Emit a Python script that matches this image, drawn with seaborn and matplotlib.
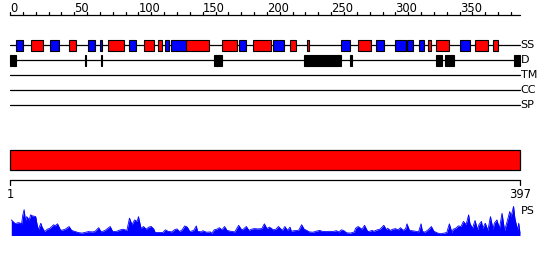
import matplotlib
matplotlib.use("Agg")
import matplotlib.pyplot as plt
from matplotlib.patches import Rectangle
import seaborn as sns

# ---------------- data ----------------
seq_len = 397
ruler_labels = [0, 50, 100, 150, 200, 250, 300, 350]
track_names = ["SS", "D", "TM", "CC", "SP"]

# secondary structure elements: start, end, type (H = helix red, E = strand blue)
ss_start = [5, 16, 31, 46, 61, 70, 76, 93, 104, 115, 121, 125, 137, 165, 178, 189,
            205, 218, 231, 258, 271, 285, 300, 309, 318, 325, 332, 350, 362, 376]
ss_end = [10, 26, 38, 51, 66, 72, 89, 98, 112, 118, 124, 137, 155, 177, 184, 203,
          213, 223, 233, 265, 281, 291, 308, 314, 322, 328, 342, 358, 372, 380]
ss_type = ["E", "H", "E", "H", "E", "E", "H", "E", "H", "H", "E", "E", "H", "H", "E", "H",
           "E", "H", "H", "E", "H", "E", "E", "E", "E", "H", "H", "E", "H", "H"]

# disordered regions
d_start = [0, 58, 71, 159, 229, 265, 332, 339, 392]
d_end = [5, 59, 72, 165, 258, 266, 336, 346, 397]

# protein-binding (PS) profile
ps_pos = [1, 4, 7, 9, 10, 11, 12, 13, 15, 16, 17, 20, 21, 22, 24, 25, 27, 29, 31, 34,
          35, 37, 39, 40, 43, 46, 48, 51, 53, 56, 59, 61, 64, 66, 69, 71, 74, 78, 80, 83,
          86, 88, 91, 93, 95, 97, 99, 100, 102, 104, 106, 108, 110, 112, 113, 115, 119,
          121, 123, 126, 128, 130, 132, 134, 136, 138, 140, 143, 145, 146, 149, 150, 153,
          156, 157, 159, 161, 163, 165, 167, 169, 172, 175, 178, 180, 181, 184, 186, 188,
          190, 193, 196, 198, 200, 202, 205, 207, 209, 211, 212, 214, 216, 218, 219, 221,
          224, 225, 227, 229, 231, 233, 236, 238, 241, 243, 246, 249, 251, 254, 256, 258,
          260, 262, 265, 268, 269, 271, 274, 276, 278, 279, 282, 283, 286, 288, 290, 291,
          293, 294, 296, 298, 300, 302, 304, 306, 308, 309, 311, 313, 316, 318, 320, 321,
          323, 326, 328, 330, 333, 335, 338, 340, 342, 344, 345, 347, 349, 351, 353, 355,
          357, 358, 360, 362, 364, 365, 367, 368, 370, 372, 374, 376, 377, 379, 381, 383,
          385, 387, 389, 390, 392, 393, 395, 396, 397]
ps_val = [.52, .40, .43, .39, .69, .86, .50, .63, .52, .69, .66, .63, .39, .19, .41, .28, .13, .21, .24, .36,
          .32, .39, .21, .17, .21, .30, .17, .13, .10, .08, .11, .13, .12, .13, .26, .12, .17, .30, .13, .14,
          .19, .21, .17, .58, .36, .52, .47, .63, .24, .30, .21, .28, .30, .21, .10, .10, .10,
          .19, .14, .12, .19, .22, .13, .19, .32, .28, .13, .17, .32, .14, .12, .16, .11,
          .12, .07, .19, .21, .26, .19, .30, .17, .14, .12, .34, .21, .19, .30, .17, .21,
          .23, .22, .23, .39, .23, .28, .19, .21, .30, .21, .17, .30, .17, .28, .14, .16,
          .17, .19, .36, .21, .17, .12, .11, .14, .17, .14, .13, .14, .13, .16, .12, .19,
          .16, .09, .08, .12, .24, .30, .21, .34, .17, .13, .17, .14, .19, .21, .30, .34,
          .19, .24, .17, .21, .23, .19, .26, .17, .23, .39, .17, .16, .14, .12, .39, .14,
          .11, .21, .30, .14, .08, .06, .08, .10, .39, .10, .21, .24, .32, .30, .47, .36,
          .69, .41, .24, .50, .19, .36, .47, .24, .41, .17, .63, .21, .41, .52, .24, .74,
          .17, .47, .80, .63, .97, .58, .19, .41, .08]

# ---------------- figure ----------------
sns.set_style("white")
plt.rcParams["font.family"] = ["DejaVu Sans"]
plt.rcParams["text.color"] = "black"

W, H = 550, 260
fig = plt.figure(figsize=(W / 100, H / 100), dpi=100)
px_per_res = 510 / seq_len
x0 = -10 / px_per_res
x1 = x0 + W / px_per_res

ax = fig.add_axes([0, 0, 1, 1])
ax.set_xlim(x0, x1)
ax.set_ylim(H, 0)
ax.axis("off")

fs = 8.3
lw = 0.9

# top ruler
ruler_y = 15
ax.plot([0, seq_len], [ruler_y, ruler_y], color="black", lw=lw)
for t in range(0, seq_len, 10):
    ax.plot([t, t], [ruler_y - 3, ruler_y], color="black", lw=lw)
for t in ruler_labels:
    ax.text(t, ruler_y - 3.5, str(t), ha="left", va="baseline", fontsize=fs, color="black")

# tracks
track_y = [45, 60, 75, 90, 105]
for name, y in zip(track_names, track_y):
    ax.plot([0, seq_len], [y, y], color="black", lw=lw, zorder=1)
    ax.text(seq_len + 0.5, y, name, ha="left", va="center", fontsize=fs - 0.3, color="black")

colors = {"H": "#ff0000", "E": "#0000ff"}
for s, e, t in zip(ss_start, ss_end, ss_type):
    ax.add_patch(Rectangle((s, track_y[0] - 5.5), e - s, 11, facecolor=colors[t],
                           edgecolor="black", lw=0.8, zorder=2))
for s, e in zip(d_start, d_end):
    ax.add_patch(Rectangle((s, track_y[1] - 5.5), max(e - s, 0.6), 11, facecolor="black",
                           edgecolor="black", lw=0.8, zorder=2))

# full-length red bar
ax.add_patch(Rectangle((0, 150), seq_len, 20, facecolor="#ff0000", edgecolor="black", lw=0.9))

# bottom scale
ax.plot([0, seq_len], [180, 180], color="black", lw=lw)
for t, lab in zip([0, seq_len], ["1", str(seq_len)]):
    ax.plot([t, t], [180, 185], color="black", lw=lw)
    ax.text(t, 188, lab, ha="center", va="top", fontsize=fs, color="black")

ax.text(seq_len + 0.5, 211, "PS", ha="left", va="center", fontsize=fs - 0.3, color="black")

# PS profile
base = 235.5
ax_ps = fig.add_axes([0, (H - base) / H, 1, 30 / H])
ax_ps.set_xlim(x0, x1)
ax_ps.set_ylim(0, 1)
ax_ps.axis("off")
ax_ps.patch.set_alpha(0)
ax_ps.fill_between(ps_pos, 0, ps_val, color="#0000ff", lw=0)
sns.lineplot(x=ps_pos, y=ps_val, ax=ax_ps, color="#0000ff", lw=0.6)

fig.savefig("out.png", dpi=100)
